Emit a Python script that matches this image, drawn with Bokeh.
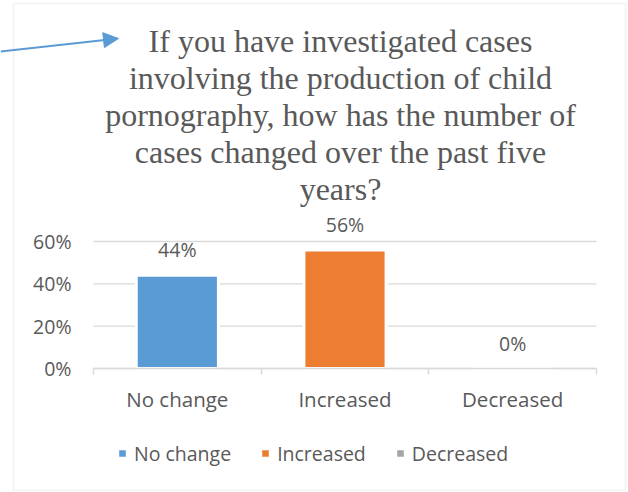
from bokeh.plotting import figure
from bokeh.models import (ColumnDataSource, FixedTicker, LabelSet, Label, Legend, LegendItem,
                          Arrow, NormalHead, BoxAnnotation, Range1d, NumeralTickFormatter)
from bokeh.core.properties import value
from bokeh.embed import file_html
from bokeh.resources import INLINE

# ---- data ----
categories = ["No change", "Increased", "Decreased"]
percent_values = [44, 56, 0]
bar_colors = ["#5B9BD5", "#ED7D31", "#A5A5A5"]
y_ticks = [0, 20, 40, 60]
title_lines = [
    "If you have investigated cases",
    "involving the production of child",
    "pornography, how has the number of",
    "cases changed over the past five",
    "years?",
]

# ---- style / layout ----
TEXT = "#595959"
GRID = "#D9D9D9"
SANS = "Open Sans"
W, H = 627, 491
PLOT_LEFT, PLOT_RIGHT = 93, 596        # canvas px of the category axis ends
PLOT_BOTTOM, PLOT_TOP_TICK = 368, 241  # canvas px of 0% and of the top tick

ncat = len(categories)
xpx = (PLOT_RIGHT - PLOT_LEFT) / ncat
ypx = (PLOT_BOTTOM - PLOT_TOP_TICK) / (y_ticks[-1] / 100)
x_range = Range1d(-PLOT_LEFT / xpx, ncat + (W - PLOT_RIGHT) / xpx)
y_range = Range1d(-(H - PLOT_BOTTOM) / ypx, PLOT_BOTTOM / ypx)

xs = [i + 0.5 for i in range(ncat)]
src = ColumnDataSource(dict(
    x=xs,
    top=[v / 100 for v in percent_values],
    color=bar_colors,
    cat=categories,
    label=[f"{v}%" for v in percent_values],
))
grid_src = ColumnDataSource(dict(
    y=[t / 100 for t in y_ticks],
    x0=[0] * len(y_ticks),
    x1=[ncat] * len(y_ticks),
))

p = figure(width=W, height=H, x_range=x_range, y_range=y_range, title=None,
           output_backend="svg", toolbar_location=None,
           min_border=0, min_border_left=0, min_border_right=0,
           min_border_top=0, min_border_bottom=0)
p.outline_line_color = None
p.background_fill_color = "white"
p.border_fill_color = "white"
p.xgrid.visible = False
p.ygrid.visible = False

# horizontal gridlines over the plot area only
p.segment(x0="x0", x1="x1", y0="y", y1="y", source=grid_src,
          line_color=GRID, line_width=1.3)

# bars
r = p.vbar(x="x", top="top", bottom=0, width=0.49, source=src,
           fill_color="color", line_color="white", line_width=3)

# data labels
p.add_layout(LabelSet(x="x", y="top", text="label", source=src,
                      text_align="center", text_baseline="middle", y_offset=25.5,
                      text_font=value(SANS), text_font_size=value("19.5px"),
                      text_color=TEXT))

# y axis (fixed at x = 0)
yax = p.yaxis[0]
yax.fixed_location = 0
yax.ticker = FixedTicker(ticks=[t / 100 for t in y_ticks])
yax.formatter = NumeralTickFormatter(format="0%")
yax.axis_line_color = None
yax.major_tick_line_color = None
yax.minor_tick_line_color = None
yax.major_tick_out = 0
yax.major_tick_in = 0
yax.major_label_standoff = 22
yax.major_label_text_font = SANS
yax.major_label_text_font_size = "19.5px"
yax.major_label_text_color = TEXT

# x axis (fixed at y = 0)
xax = p.xaxis[0]
xax.fixed_location = 0
xax.bounds = (0, ncat)
xax.ticker = FixedTicker(ticks=xs, minor_ticks=list(range(ncat + 1)))
xax.major_label_overrides = {x: c for x, c in zip(xs, categories)}
xax.major_tick_line_color = None
xax.major_tick_out = 0
xax.major_tick_in = 0
xax.minor_tick_line_color = GRID
xax.minor_tick_line_width = 1.5
xax.minor_tick_out = 6
xax.minor_tick_in = 0
xax.axis_line_color = GRID
xax.axis_line_width = 1.5
xax.major_label_standoff = 10
xax.major_label_text_font = SANS
xax.major_label_text_font_size = "20.5px"
xax.major_label_text_color = TEXT

# legend
items = [LegendItem(label=c, renderers=[r], index=i) for i, c in enumerate(categories)]
legend = Legend(items=items, orientation="horizontal", location=(116, 24.5),
                glyph_width=12, glyph_height=12, label_standoff=6, spacing=28,
                label_text_font=SANS, label_text_font_size="19.5px", label_text_color=TEXT,
                border_line_color=None, background_fill_alpha=0, padding=0, margin=0)
p.add_layout(legend, "center")

# title lines
title_baselines = [40, 77, 114, 151, 188]
for line, yb in zip(title_lines, title_baselines):
    p.add_layout(Label(x=340, y=yb, x_units="canvas", y_units="canvas", text=line,
                       text_align="center", text_baseline="alphabetic",
                       text_font="Liberation Serif", text_font_size="32px",
                       text_color=TEXT))

# outer border
p.add_layout(BoxAnnotation(left=13, right=625, top=3, bottom=490,
                           left_units="canvas", right_units="canvas",
                           top_units="canvas", bottom_units="canvas",
                           fill_color=None, line_color=GRID, line_width=2))

# arrow pointing at title
p.add_layout(Arrow(end=NormalHead(size=15, fill_color="#5B9BD5", line_color="#5B9BD5"),
                   x_start=0, y_start=51, x_end=118, y_end=38,
                   start_units="canvas", end_units="canvas",
                   line_color="#5B9BD5", line_width=2))

open("out.html", "w").write(file_html(p, INLINE))
